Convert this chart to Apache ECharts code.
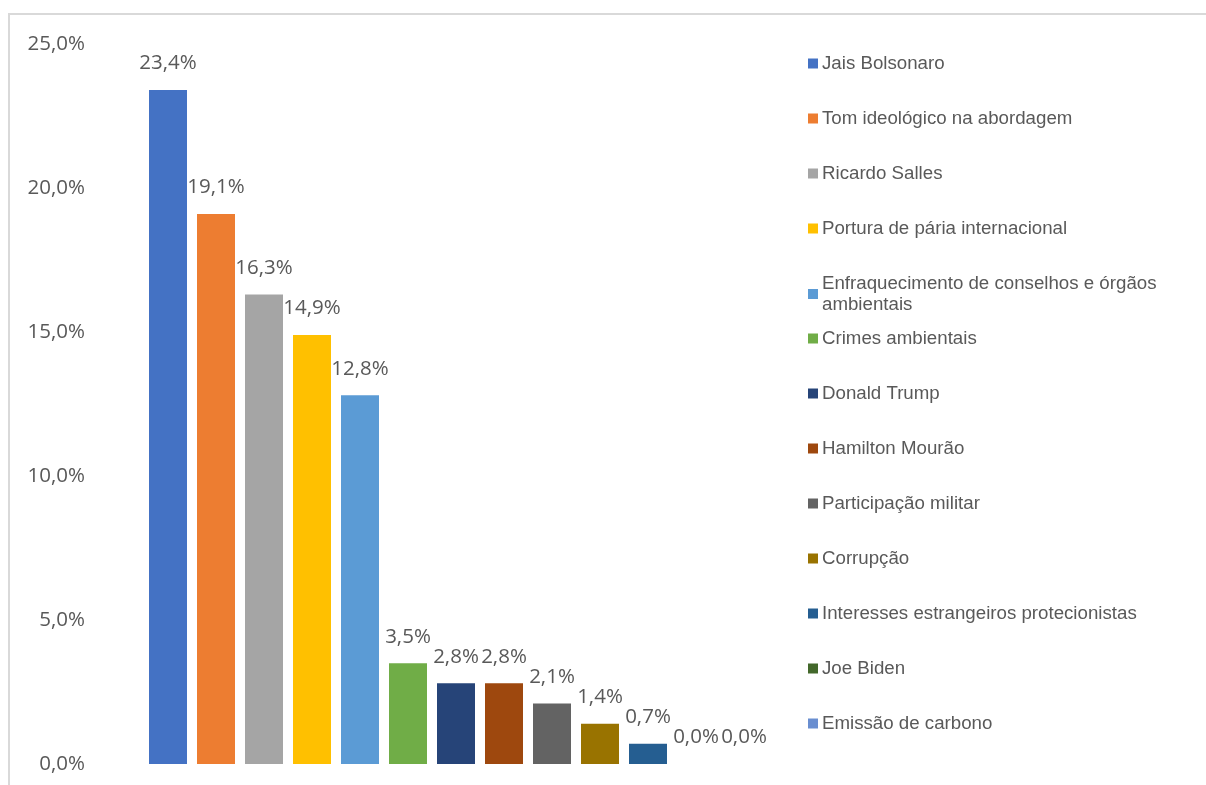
<!DOCTYPE html>
<html>
<head>
<meta charset="utf-8">
<title>Temas</title>
<script src="https://cdn.jsdelivr.net/npm/echarts@6/dist/echarts.min.js"></script>
<style>
  html, body { margin: 0; padding: 0; background: #fff; }
  .frame {
    position: absolute; left: 8px; top: 13px;
    width: 1400px; height: 900px;
    border: 2px solid #d9d9d9;
  }
  #chart { position: absolute; left: 0; top: 0; width: 1206px; height: 785px; }
</style>
</head>
<body>
<div class="frame"></div>
<div id="chart"></div>
<script>
const categories = [
  'Jais Bolsonaro',
  'Tom ideológico na abordagem',
  'Ricardo Salles',
  'Portura de pária internacional',
  'Enfraquecimento de conselhos e órgãos\nambientais',
  'Crimes ambientais',
  'Donald Trump',
  'Hamilton Mourão',
  'Participação militar',
  'Corrupção',
  'Interesses estrangeiros protecionistas',
  'Joe Biden',
  'Emissão de carbono'
]
const values = [23.4, 19.1, 16.3, 14.9, 12.8, 3.5, 2.8, 2.8, 2.1, 1.4, 0.7, 0.0, 0.0]
const colors = ['#4472C4', '#ED7D31', '#A5A5A5', '#FFC000', '#5B9BD5', '#70AD47',
  '#264478', '#9E480E', '#636363', '#997300', '#255E91', '#43682B', '#698ED0']

const fmt = v => v.toFixed(1).replace('.', ',') + '%'

const chart = echarts.init(document.getElementById('chart'))

// one series per category so each gets its own legend entry
const series = categories.map((name, i) => ({
  name: name,
  type: 'bar',
  stack: 'all',
  barWidth: 38,
  itemStyle: { color: colors[i] },
  label: {
    show: true,
    position: 'top',
    distance: 16,
    color: '#595959',
    fontSize: 20.5,
    fontFamily: 'Open Sans',
    formatter: p => fmt(p.value)
  },
  data: categories.map((c, j) => (j === i ? values[i] : '-'))
}))

const legendBase = {
  orient: 'vertical',
  left: 803,
  itemWidth: 10,
  itemHeight: 10,
  itemGap: 34,
  icon: 'rect',
  textStyle: {
    color: '#595959',
    fontSize: 18.7,
    lineHeight: 21,
    padding: [0, 0, 0, -1],
    fontFamily: 'Liberation Sans'
  }
}

chart.setOption({
  animation: false,
  grid: { left: 144, right: 438, top: 44, bottom: 21 },
  legend: [
    Object.assign({}, legendBase, { top: 48, data: categories.slice(0, 5) }),
    Object.assign({}, legendBase, { top: 323, data: categories.slice(5) })
  ],
  xAxis: {
    type: 'category',
    data: categories,
    axisLine: { show: false },
    axisTick: { show: false },
    axisLabel: { show: false }
  },
  yAxis: {
    type: 'value',
    min: 0,
    max: 25,
    interval: 5,
    splitLine: { show: false },
    axisLine: { show: false },
    axisTick: { show: false },
    axisLabel: {
      margin: 59,
      color: '#595959',
      fontSize: 20.5,
      fontFamily: 'Open Sans',
      formatter: v => fmt(v)
    }
  },
  series: series
})
</script>
</body>
</html>
